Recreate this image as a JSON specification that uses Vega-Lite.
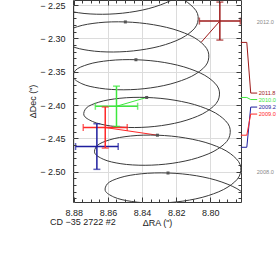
{
  "$schema": "https://vega.github.io/schema/vega-lite/v6.json",
  "width": 168,
  "height": 202,
  "autosize": {"type": "none"},
  "padding": {"left": 73, "top": 0, "right": 36, "bottom": 66},
  "background": "white",
  "config": {
    "view": {"stroke": "#3a3a3a", "strokeWidth": 1},
    "font": "Liberation Sans",
    "axis": {"labelFont": "Liberation Sans", "titleFont": "Liberation Sans", "labelFontSize": 9, "titleFontSize": 9, "labelColor": "#222", "titleColor": "#222", "titleFontWeight": "normal", "domain": false, "grid": false, "tickColor": "#3a3a3a", "tickWidth": 1, "labelFlush": false, "labelOverlap": false}
  },
  "title": {"text": "CD −35 2722 #2", "orient": "bottom", "anchor": "start", "frame": "group", "dx": -23, "offset": -9, "fontSize": 9, "fontWeight": "normal", "font": "Liberation Sans", "color": "#222"},
  "datasets": {
    "track": [
      {"t": 2007.625, "ra": 8.7833, "dec": -2.5796}, {"t": 2007.6875, "ra": 8.7767, "dec": -2.5634}, {"t": 2007.75, "ra": 8.7762, "dec": -2.5460}, {"t": 2007.8125, "ra": 8.7820, "dec": -2.5294}, {"t": 2007.875, "ra": 8.7932, "dec": -2.5156}, {"t": 2007.9375, "ra": 8.8082, "dec": -2.5061},
      {"t": 2008.0, "ra": 8.8248, "dec": -2.5020}, {"t": 2008.0625, "ra": 8.8405, "dec": -2.5032}, {"t": 2008.125, "ra": 8.8529, "dec": -2.5090}, {"t": 2008.1875, "ra": 8.8603, "dec": -2.5181}, {"t": 2008.25, "ra": 8.8616, "dec": -2.5284}, {"t": 2008.3125, "ra": 8.8566, "dec": -2.5380}, {"t": 2008.375, "ra": 8.8461, "dec": -2.5447}, {"t": 2008.4375, "ra": 8.8319, "dec": -2.5471}, {"t": 2008.5, "ra": 8.8161, "dec": -2.5442}, {"t": 2008.5625, "ra": 8.8012, "dec": -2.5359}, {"t": 2008.625, "ra": 8.7896, "dec": -2.5229}, {"t": 2008.6875, "ra": 8.7830, "dec": -2.5068}, {"t": 2008.75, "ra": 8.7825, "dec": -2.4894}, {"t": 2008.8125, "ra": 8.7883, "dec": -2.4728}, {"t": 2008.875, "ra": 8.7995, "dec": -2.4589}, {"t": 2008.9375, "ra": 8.8145, "dec": -2.4495},
      {"t": 2009.0, "ra": 8.8310, "dec": -2.4453}, {"t": 2009.0625, "ra": 8.8467, "dec": -2.4465}, {"t": 2009.125, "ra": 8.8592, "dec": -2.4524}, {"t": 2009.1875, "ra": 8.8665, "dec": -2.4614}, {"t": 2009.25, "ra": 8.8678, "dec": -2.4718}, {"t": 2009.3125, "ra": 8.8628, "dec": -2.4813}, {"t": 2009.375, "ra": 8.8524, "dec": -2.4881}, {"t": 2009.4375, "ra": 8.8382, "dec": -2.4904}, {"t": 2009.5, "ra": 8.8224, "dec": -2.4875}, {"t": 2009.5625, "ra": 8.8075, "dec": -2.4792}, {"t": 2009.625, "ra": 8.7958, "dec": -2.4663}, {"t": 2009.6875, "ra": 8.7892, "dec": -2.4502}, {"t": 2009.75, "ra": 8.7887, "dec": -2.4327}, {"t": 2009.8125, "ra": 8.7945, "dec": -2.4161}, {"t": 2009.875, "ra": 8.8057, "dec": -2.4023}, {"t": 2009.9375, "ra": 8.8207, "dec": -2.3929},
      {"t": 2010.0, "ra": 8.8373, "dec": -2.3887}, {"t": 2010.0625, "ra": 8.8530, "dec": -2.3899}, {"t": 2010.125, "ra": 8.8654, "dec": -2.3958}, {"t": 2010.1875, "ra": 8.8728, "dec": -2.4048}, {"t": 2010.25, "ra": 8.8741, "dec": -2.4152}, {"t": 2010.3125, "ra": 8.8691, "dec": -2.4247}, {"t": 2010.375, "ra": 8.8586, "dec": -2.4314}, {"t": 2010.4375, "ra": 8.8444, "dec": -2.4338}, {"t": 2010.5, "ra": 8.8286, "dec": -2.4309}, {"t": 2010.5625, "ra": 8.8137, "dec": -2.4226}, {"t": 2010.625, "ra": 8.8021, "dec": -2.4097}, {"t": 2010.6875, "ra": 8.7955, "dec": -2.3935}, {"t": 2010.75, "ra": 8.7950, "dec": -2.3761}, {"t": 2010.8125, "ra": 8.8008, "dec": -2.3595}, {"t": 2010.875, "ra": 8.8120, "dec": -2.3457}, {"t": 2010.9375, "ra": 8.8270, "dec": -2.3362},
      {"t": 2011.0, "ra": 8.8436, "dec": -2.3321}, {"t": 2011.0625, "ra": 8.8592, "dec": -2.3333}, {"t": 2011.125, "ra": 8.8717, "dec": -2.3391}, {"t": 2011.1875, "ra": 8.8791, "dec": -2.3482}, {"t": 2011.25, "ra": 8.8803, "dec": -2.3585}, {"t": 2011.3125, "ra": 8.8753, "dec": -2.3681}, {"t": 2011.375, "ra": 8.8649, "dec": -2.3748}, {"t": 2011.4375, "ra": 8.8507, "dec": -2.3772}, {"t": 2011.5, "ra": 8.8349, "dec": -2.3743}, {"t": 2011.5625, "ra": 8.8200, "dec": -2.3660}, {"t": 2011.625, "ra": 8.8083, "dec": -2.3531}, {"t": 2011.6875, "ra": 8.8017, "dec": -2.3369}, {"t": 2011.75, "ra": 8.8013, "dec": -2.3195}, {"t": 2011.8125, "ra": 8.8070, "dec": -2.3029}, {"t": 2011.875, "ra": 8.8183, "dec": -2.2890}, {"t": 2011.9375, "ra": 8.8333, "dec": -2.2796},
      {"t": 2012.0, "ra": 8.8498, "dec": -2.2754}, {"t": 2012.0625, "ra": 8.8655, "dec": -2.2766}, {"t": 2012.125, "ra": 8.8779, "dec": -2.2825}, {"t": 2012.1875, "ra": 8.8853, "dec": -2.2916}, {"t": 2012.25, "ra": 8.8866, "dec": -2.3019}, {"t": 2012.3125, "ra": 8.8816, "dec": -2.3115}, {"t": 2012.375, "ra": 8.8712, "dec": -2.3182}, {"t": 2012.4375, "ra": 8.8569, "dec": -2.3205}, {"t": 2012.5, "ra": 8.8412, "dec": -2.3176}, {"t": 2012.5625, "ra": 8.8263, "dec": -2.3094}, {"t": 2012.625, "ra": 8.8146, "dec": -2.2964}, {"t": 2012.6875, "ra": 8.8080, "dec": -2.2803}, {"t": 2012.75, "ra": 8.8075, "dec": -2.2629}, {"t": 2012.8125, "ra": 8.8133, "dec": -2.2462}, {"t": 2012.875, "ra": 8.8245, "dec": -2.2324}, {"t": 2012.9375, "ra": 8.8395, "dec": -2.2230},
      {"t": 2013.0, "ra": 8.8561, "dec": -2.2188}, {"t": 2013.0625, "ra": 8.8718, "dec": -2.2200}, {"t": 2013.125, "ra": 8.8842, "dec": -2.2259}, {"t": 2013.1875, "ra": 8.8916, "dec": -2.2349}, {"t": 2013.25, "ra": 8.8929, "dec": -2.2453}, {"t": 2013.3125, "ra": 8.8879, "dec": -2.2548}, {"t": 2013.375, "ra": 8.8774, "dec": -2.2616}, {"t": 2013.4375, "ra": 8.8632, "dec": -2.2639}, {"t": 2013.5, "ra": 8.8474, "dec": -2.2610}, {"t": 2013.5625, "ra": 8.8325, "dec": -2.2527}, {"t": 2013.625, "ra": 8.8209, "dec": -2.2398}, {"t": 2013.6875, "ra": 8.8143, "dec": -2.2237}, {"t": 2013.75, "ra": 8.8138, "dec": -2.2062}
    ],
    "obs": [
      {"epoch": "2009.0", "ra": 8.8616, "dec": -2.4338, "raLo": 8.8487, "raHi": 8.8745, "decLo": -2.4646, "decHi": -2.4030, "raPred": 8.8310, "decPred": -2.4453},
      {"epoch": "2009.2", "ra": 8.8665, "dec": -2.4623, "raLo": 8.8540, "raHi": 8.8790, "decLo": -2.4965, "decHi": -2.4281, "raPred": 8.8673, "decPred": -2.4634},
      {"epoch": "2010.0", "ra": 8.8550, "dec": -2.4019, "raLo": 8.8426, "raHi": 8.8674, "decLo": -2.4321, "decHi": -2.3717, "raPred": 8.8373, "decPred": -2.3887},
      {"epoch": "2011.8", "ra": 8.7944, "dec": -2.2741, "raLo": 8.7824, "raHi": 8.8064, "decLo": -2.3026, "decHi": -2.2456, "raPred": 8.8054, "decPred": -2.3061}
    ],
    "leader": [
      {"epoch": "2011.8", "seq": 1, "ra": 8.7821, "dec": -2.3061}, {"epoch": "2011.8", "seq": 2, "ra": 8.7786, "dec": -2.3061}, {"epoch": "2011.8", "seq": 3, "ra": 8.7763, "dec": -2.3821}, {"epoch": "2011.8", "seq": 4, "ra": 8.7725, "dec": -2.3821},
      {"epoch": "2010.0", "seq": 1, "ra": 8.7821, "dec": -2.3887}, {"epoch": "2010.0", "seq": 2, "ra": 8.7786, "dec": -2.3887}, {"epoch": "2010.0", "seq": 3, "ra": 8.7763, "dec": -2.3918}, {"epoch": "2010.0", "seq": 4, "ra": 8.7725, "dec": -2.3918},
      {"epoch": "2009.2", "seq": 1, "ra": 8.7821, "dec": -2.4634}, {"epoch": "2009.2", "seq": 2, "ra": 8.7786, "dec": -2.4634}, {"epoch": "2009.2", "seq": 3, "ra": 8.7763, "dec": -2.4031}, {"epoch": "2009.2", "seq": 4, "ra": 8.7725, "dec": -2.4031},
      {"epoch": "2009.0", "seq": 1, "ra": 8.7821, "dec": -2.4453}, {"epoch": "2009.0", "seq": 2, "ra": 8.7786, "dec": -2.4453}, {"epoch": "2009.0", "seq": 3, "ra": 8.7763, "dec": -2.4136}, {"epoch": "2009.0", "seq": 4, "ra": 8.7725, "dec": -2.4136}
    ],
    "labels": [
      {"epoch": "2012.0", "ra": 8.7728, "dec": -2.2756},
      {"epoch": "2011.8", "ra": 8.7716, "dec": -2.3821},
      {"epoch": "2010.0", "ra": 8.7716, "dec": -2.3918},
      {"epoch": "2009.2", "ra": 8.7716, "dec": -2.4031},
      {"epoch": "2009.0", "ra": 8.7716, "dec": -2.4136},
      {"epoch": "2008.0", "ra": 8.7728, "dec": -2.5006}
    ]
  },
  "resolve": {"axis": {"x": "independent", "y": "independent"}},
  "layer": [
    {
      "data": {"name": "leader"},
      "mark": {"type": "line", "strokeWidth": 1, "clip": false},
      "encoding": {
        "x": {"field": "ra", "type": "quantitative", "scale": {"domain": [8.782, 8.8805], "reverse": true, "zero": false, "nice": false},
              "axis": {"orient": "bottom", "values": [8.80, 8.82, 8.84, 8.86, 8.88], "format": ".2f", "ticks": false, "grid": true, "gridColor": "#dcdcdc", "gridWidth": 1, "labelPadding": 6, "title": "ΔRA (\")", "titlePadding": 1, "zindex": 0}},
        "y": {"field": "dec", "type": "quantitative", "scale": {"domain": [-2.5455, -2.2425], "zero": false, "nice": false},
              "axis": {"orient": "left", "values": [-2.5, -2.45, -2.4, -2.35, -2.3, -2.25], "labelExpr": "'− ' + format(abs(datum.value), '.2f')", "ticks": false, "grid": true, "gridColor": "#dcdcdc", "gridWidth": 1, "labelPadding": 8, "title": "ΔDec (\")", "titlePadding": 2, "zindex": 0}},
        "detail": {"field": "epoch"},
        "order": {"field": "seq"},
        "color": {"field": "epoch", "type": "nominal", "legend": null, "scale": {"domain": ["2009.0", "2009.2", "2010.0", "2011.8", "2012.0", "2008.0"], "range": ["#ff2828", "#1e1e9e", "#3ee83e", "#9e1a1a", "#8a8a8a", "#8a8a8a"]}}
      }
    },
    {
      "data": {"name": "obs"},
      "mark": {"type": "rule", "strokeWidth": 1, "clip": true},
      "encoding": {
        "x": {"field": "ra", "type": "quantitative", "scale": {"domain": [8.782, 8.8805], "reverse": true, "zero": false, "nice": false},
              "axis": {"orient": "top", "values": [8.80, 8.82, 8.84, 8.86, 8.88], "labels": false, "grid": false, "ticks": true, "tickSize": -5, "title": null, "zindex": 2}},
        "y": {"field": "dec", "type": "quantitative", "scale": {"domain": [-2.5455, -2.2425], "zero": false, "nice": false},
              "axis": {"orient": "right", "values": [-2.5, -2.45, -2.4, -2.35, -2.3, -2.25], "labels": false, "grid": false, "ticks": true, "tickSize": -5, "title": null, "zindex": 2}},
        "x2": {"field": "raPred"},
        "y2": {"field": "decPred"},
        "color": {"field": "epoch", "type": "nominal", "legend": null, "scale": {"domain": ["2009.0", "2009.2", "2010.0", "2011.8", "2012.0", "2008.0"], "range": ["#ff2828", "#1e1e9e", "#3ee83e", "#9e1a1a", "#8a8a8a", "#8a8a8a"]}}
      }
    },
    {
      "data": {"name": "track"},
      "mark": {"type": "line", "interpolate": "catmull-rom", "stroke": "#3a3a3a", "strokeWidth": 1, "clip": true},
      "encoding": {
        "x": {"field": "ra", "type": "quantitative", "scale": {"domain": [8.782, 8.8805], "reverse": true, "zero": false, "nice": false},
              "axis": {"orient": "bottom", "values": [8.80, 8.82, 8.84, 8.86, 8.88], "labels": false, "grid": false, "ticks": true, "tickSize": -5, "title": null, "zindex": 2}},
        "y": {"field": "dec", "type": "quantitative", "scale": {"domain": [-2.5455, -2.2425], "zero": false, "nice": false},
              "axis": {"orient": "left", "values": [-2.5, -2.45, -2.4, -2.35, -2.3, -2.25], "labels": false, "grid": false, "ticks": true, "tickSize": -5, "title": null, "zindex": 2}},
        "order": {"field": "t"}
      }
    },
    {
      "data": {"name": "track"},
      "transform": [{"filter": "datum.t == floor(datum.t)"}],
      "mark": {"type": "square", "size": 9, "color": "#555555", "opacity": 1, "clip": true},
      "encoding": {
        "x": {"field": "ra", "type": "quantitative", "scale": {"domain": [8.782, 8.8805], "reverse": true, "zero": false, "nice": false},
              "axis": {"orient": "bottom", "values": [8.785, 8.79, 8.795, 8.805, 8.81, 8.815, 8.825, 8.83, 8.835, 8.845, 8.85, 8.855, 8.865, 8.87, 8.875], "labels": false, "grid": false, "ticks": true, "tickSize": -3, "title": null, "zindex": 2}},
        "y": {"field": "dec", "type": "quantitative", "scale": {"domain": [-2.5455, -2.2425], "zero": false, "nice": false},
              "axis": {"orient": "left", "values": [-2.54, -2.53, -2.52, -2.51, -2.49, -2.48, -2.47, -2.46, -2.44, -2.43, -2.42, -2.41, -2.39, -2.38, -2.37, -2.36, -2.34, -2.33, -2.32, -2.31, -2.29, -2.28, -2.27, -2.26], "labels": false, "grid": false, "ticks": true, "tickSize": -3, "title": null, "zindex": 2}}
      }
    },
    {
      "data": {"name": "obs"},
      "mark": {"type": "rule", "clip": false},
      "encoding": {
        "x": {"field": "raLo", "type": "quantitative", "scale": {"domain": [8.782, 8.8805], "reverse": true, "zero": false, "nice": false},
              "axis": {"orient": "top", "values": [8.785, 8.79, 8.795, 8.805, 8.81, 8.815, 8.825, 8.83, 8.835, 8.845, 8.85, 8.855, 8.865, 8.87, 8.875], "labels": false, "grid": false, "ticks": true, "tickSize": -3, "title": null, "zindex": 2}},
        "x2": {"field": "raHi"},
        "y": {"field": "dec", "type": "quantitative", "scale": {"domain": [-2.5455, -2.2425], "zero": false, "nice": false},
              "axis": {"orient": "right", "values": [-2.54, -2.53, -2.52, -2.51, -2.49, -2.48, -2.47, -2.46, -2.44, -2.43, -2.42, -2.41, -2.39, -2.38, -2.37, -2.36, -2.34, -2.33, -2.32, -2.31, -2.29, -2.28, -2.27, -2.26], "labels": false, "grid": false, "ticks": true, "tickSize": -3, "title": null, "zindex": 2}},
        "color": {"field": "epoch", "type": "nominal", "legend": null, "scale": {"domain": ["2009.0", "2009.2", "2010.0", "2011.8", "2012.0", "2008.0"], "range": ["#ff2828", "#1e1e9e", "#3ee83e", "#9e1a1a", "#8a8a8a", "#8a8a8a"]}},
        "strokeWidth": {"field": "epoch", "type": "nominal", "legend": null, "scale": {"domain": ["2009.0", "2009.2", "2010.0", "2011.8"], "range": [1.5, 1.5, 1.5, 2]}}
      }
    },
    {
      "data": {"name": "obs"},
      "mark": {"type": "rule", "clip": false},
      "encoding": {
        "x": {"field": "ra", "type": "quantitative", "scale": {"domain": [8.782, 8.8805], "reverse": true, "zero": false, "nice": false}, "axis": null},
        "y": {"field": "decLo", "type": "quantitative", "scale": {"domain": [-2.5455, -2.2425], "zero": false, "nice": false}, "axis": null},
        "y2": {"field": "decHi"},
        "color": {"field": "epoch", "type": "nominal", "legend": null, "scale": {"domain": ["2009.0", "2009.2", "2010.0", "2011.8", "2012.0", "2008.0"], "range": ["#ff2828", "#1e1e9e", "#3ee83e", "#9e1a1a", "#8a8a8a", "#8a8a8a"]}},
        "strokeWidth": {"field": "epoch", "type": "nominal", "legend": null, "scale": {"domain": ["2009.0", "2009.2", "2010.0", "2011.8"], "range": [1.5, 1.5, 1.5, 2.5]}}
      }
    },
    {
      "data": {"name": "obs"},
      "transform": [{"fold": ["raLo", "raHi"], "as": ["end", "raEnd"]}],
      "mark": {"type": "tick", "orient": "vertical", "size": 7, "thickness": 1.5, "clip": false},
      "encoding": {
        "x": {"field": "raEnd", "type": "quantitative", "scale": {"domain": [8.782, 8.8805], "reverse": true, "zero": false, "nice": false}, "axis": null},
        "y": {"field": "dec", "type": "quantitative", "scale": {"domain": [-2.5455, -2.2425], "zero": false, "nice": false}, "axis": null},
        "color": {"field": "epoch", "type": "nominal", "legend": null, "scale": {"domain": ["2009.0", "2009.2", "2010.0", "2011.8", "2012.0", "2008.0"], "range": ["#ff2828", "#1e1e9e", "#3ee83e", "#9e1a1a", "#8a8a8a", "#8a8a8a"]}}
      }
    },
    {
      "data": {"name": "obs"},
      "transform": [{"fold": ["decLo", "decHi"], "as": ["end", "decEnd"]}],
      "mark": {"type": "tick", "orient": "horizontal", "size": 7, "thickness": 1.5, "clip": false},
      "encoding": {
        "x": {"field": "ra", "type": "quantitative", "scale": {"domain": [8.782, 8.8805], "reverse": true, "zero": false, "nice": false}, "axis": null},
        "y": {"field": "decEnd", "type": "quantitative", "scale": {"domain": [-2.5455, -2.2425], "zero": false, "nice": false}, "axis": null},
        "color": {"field": "epoch", "type": "nominal", "legend": null, "scale": {"domain": ["2009.0", "2009.2", "2010.0", "2011.8", "2012.0", "2008.0"], "range": ["#ff2828", "#1e1e9e", "#3ee83e", "#9e1a1a", "#8a8a8a", "#8a8a8a"]}}
      }
    },
    {
      "data": {"name": "labels"},
      "mark": {"type": "text", "align": "left", "baseline": "middle", "fontSize": 5.6, "font": "Liberation Sans", "clip": false},
      "encoding": {
        "x": {"field": "ra", "type": "quantitative", "scale": {"domain": [8.782, 8.8805], "reverse": true, "zero": false, "nice": false}, "axis": null},
        "y": {"field": "dec", "type": "quantitative", "scale": {"domain": [-2.5455, -2.2425], "zero": false, "nice": false}, "axis": null},
        "text": {"field": "epoch"},
        "color": {"field": "epoch", "type": "nominal", "legend": null, "scale": {"domain": ["2009.0", "2009.2", "2010.0", "2011.8", "2012.0", "2008.0"], "range": ["#ff2828", "#1e1e9e", "#3ee83e", "#9e1a1a", "#8a8a8a", "#8a8a8a"]}}
      }
    }
  ]
}
